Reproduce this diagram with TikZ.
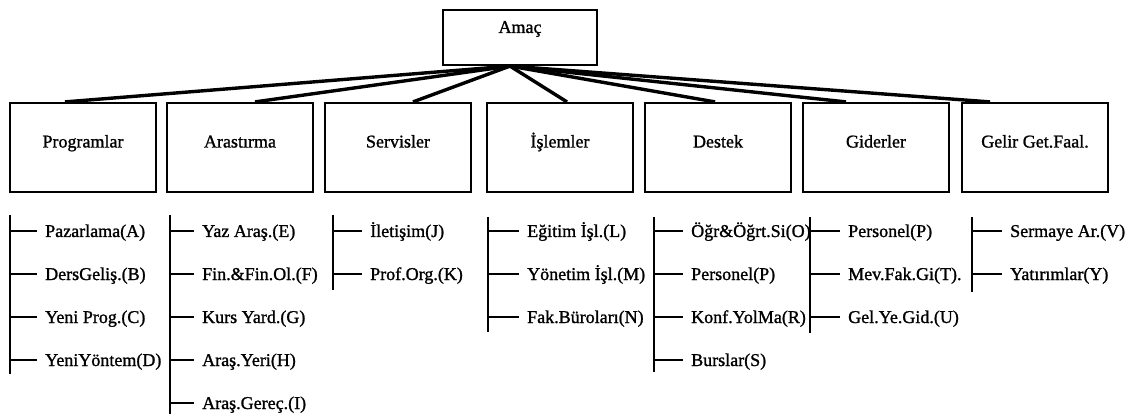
\documentclass[tikz,border=0pt]{standalone}
\usepackage{fontspec}
\setmainfont{Liberation Serif}[FakeBold=1.2]
\begin{document}
\begin{tikzpicture}[x=1pt,y=-1pt,
  lbl/.style={font=\fontsize{18}{21}\selectfont},
  box/.style={lbl,draw,line width=2.2pt,minimum width=146pt,minimum height=89pt,inner sep=0pt,text height=12pt,text depth=12pt},
  topbox/.style={lbl,draw,line width=2.2pt,minimum width=154pt,minimum height=55pt,inner sep=0pt,text height=12pt,text depth=21pt},
  item/.style={lbl,anchor=west,inner sep=0pt,text height=12pt,text depth=0pt},
  conn/.style={line width=3.4pt},
  brk/.style={line width=2.6pt},
  tick/.style={line width=2.6pt,shorten >=8pt}]
\useasboundingbox (0,0) rectangle (1139,419);

% top
\node[topbox] (amac) at (520,37.5) {Amaç};
\coordinate (apex) at ([xshift=-10pt]amac.south);

% level boxes
\node[box] (prog) at (83,147.5) {Programlar};
\node[box] (aras) at (240,147.5) {Arastırma};
\node[box] (serv) at (398,147.5) {Servisler};
\node[box] (isl)  at (560,147.5) {İşlemler};
\node[box] (dest) at (718,147.5) {Destek};
\node[box] (gid)  at (876,147.5) {Giderler};
\node[box] (gel)  at (1035,147.5) {Gelir Get.Faal.};

\draw[conn] (apex) -- ([xshift=-18pt]prog.north);
\draw[conn] (apex) -- ([xshift=15pt]aras.north);
\draw[conn] (apex) -- ([xshift=15pt]serv.north);
\draw[conn] (apex) -- ([xshift=7pt]isl.north);
\draw[conn] (apex) -- ([xshift=-3pt]dest.north);
\draw[conn] (apex) -- ([xshift=-30pt]gid.north);
\draw[conn] (apex) -- ([xshift=-45pt]gel.north);

% Programlar list
\coordinate (pT) at (10,215); \coordinate (pB) at (10,374);
\draw[brk] (pT) -- (pB);
\node[item] (pA) at (45,231) {Pazarlama(A)};
\node[item] (pBn) at (45,274) {DersGeliş.(B)};
\node[item] (pC) at (45,317) {Yeni Prog.(C)};
\node[item] (pD) at (45,360) {YeniYöntem(D)};
\foreach \n in {pA,pBn,pC,pD} \draw[tick] (\n.west -| pT) -- (\n.west);

% Arastirma list
\coordinate (aT) at (170,215); \coordinate (aB) at (170,414);
\draw[brk] (aT) -- (aB);
\node[item] (aE) at (202,231) {Yaz Araş.(E)};
\node[item] (aF) at (202,274) {Fin.\&Fin.Ol.(F)};
\node[item] (aG) at (202,317) {Kurs Yard.(G)};
\node[item] (aH) at (202,360) {Araş.Yeri(H)};
\node[item] (aI) at (202,403) {Araş.Gereç.(I)};
\foreach \n in {aE,aF,aG,aH,aI} \draw[tick] (\n.west -| aT) -- (\n.west);

% Servisler list
\coordinate (sT) at (333,215); \coordinate (sB) at (333,290);
\draw[brk] (sT) -- (sB);
\node[item] (sJ) at (370,231) {İletişim(J)};
\node[item] (sK) at (370,274) {Prof.Org.(K)};
\foreach \n in {sJ,sK} \draw[tick] (\n.west -| sT) -- (\n.west);

% Islemler list
\coordinate (iT) at (488,217); \coordinate (iB) at (488,332);
\draw[brk] (iT) -- (iB);
\node[item] (iL) at (527,231) {Eğitim İşl.(L)};
\node[item] (iM) at (527,274) {Yönetim İşl.(M)};
\node[item] (iN) at (527,317) {Fak.Büroları(N)};
\foreach \n in {iL,iM,iN} \draw[tick] (\n.west -| iT) -- (\n.west);

% Destek list
\coordinate (dT) at (654,217); \coordinate (dB) at (654,372);
\draw[brk] (dT) -- (dB);
\node[item] (dO) at (691,231) {Öğr\&Öğrt.Si(O)};
\node[item] (dP) at (691,274) {Personel(P)};
\node[item] (dR) at (691,317) {Konf.YolMa(R)};
\node[item] (dS) at (691,360) {Burslar(S)};
\foreach \n in {dO,dP,dR,dS} \draw[tick] (\n.west -| dT) -- (\n.west);

% Giderler list
\coordinate (gT) at (810,217); \coordinate (gB) at (810,333);
\draw[brk] (gT) -- (gB);
\node[item] (gP) at (848,231) {Personel(P)};
\node[item] (gTn) at (848,274) {Mev.Fak.Gi(T).};
\node[item] (gU) at (848,317) {Gel.Ye.Gid.(U)};
\foreach \n in {gP,gTn,gU} \draw[tick] (\n.west -| gT) -- (\n.west);

% Gelir list
\coordinate (eT) at (972,217); \coordinate (eB) at (972,292);
\draw[brk] (eT) -- (eB);
\node[item] (eV) at (1010,231) {Sermaye Ar.(V)};
\node[item] (eY) at (1010,274) {Yatırımlar(Y)};
\foreach \n in {eV,eY} \draw[tick] (\n.west -| eT) -- (\n.west);
\end{tikzpicture}
\end{document}
